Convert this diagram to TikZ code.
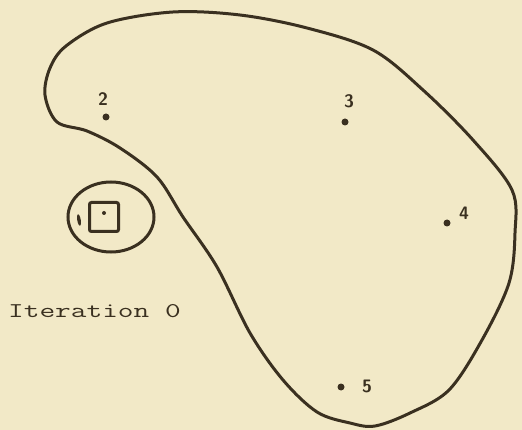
\documentclass[tikz,border=0pt]{standalone}
\usepackage{graphicx}
\usepackage{tikz}
\usetikzlibrary{positioning,shapes.geometric}
\definecolor{paper}{RGB}{242,233,199}
\definecolor{ink}{RGB}{58,48,32}

\begin{document}
\begin{tikzpicture}[
  x=1pt, y=-1pt,
  pt/.style={circle, fill=ink, inner sep=0pt, minimum size=7pt},
  num/.style={text=ink, font=\sffamily\bfseries\fontsize{18}{18}\selectfont, inner sep=0pt},
  curve/.style={draw=ink, line width=3pt, line join=round}
]
\fill[paper] (0,0) rectangle (522,430);
\useasboundingbox (0,0) rectangle (522,430);

% Outer region
\draw[curve] plot[smooth cycle, tension=0.55] coordinates {
  (45,95) (57,122) (87,131) (120,148) (157,177) (183,217) (217,267)
  (250,333) (283,380) (317,412) (350,423) (375,426) (410,413) (449,390)
  (482,340) (509,283) (515,233) (512,190) (473,140) (423,90) (373,50)
  (307,28) (240,15) (173,12) (107,23) (66,46) (50,68)};

% Points
\node[pt] (p2) at (106,117) {};
\node[pt] (p3) at (345,122) {};
\node[pt] (p4) at (447,223) {};
\node[pt] (p5) at (341,387) {};

% Point labels
\node[num] (l2) at (103,99) {2};
\node[num] (l3) at (349,101) {3};
\node[num] (l4) at (464,213) {4};
\node[num] (l5) at (367,386) {5};

% Small region
\node[draw=ink, line width=3pt, ellipse, minimum width=86pt, minimum height=70pt,
      inner sep=0pt] (ring) at (111,217) {};
\node[draw=ink, line width=3pt, rounded corners=2pt, minimum size=29pt,
      inner sep=0pt] (box) at (104,217) {};
\node[circle, fill=ink, inner sep=0pt, minimum size=4pt] (p1) at (104,213) {};
\node[ellipse, fill=ink, inner sep=0pt, minimum width=3.5pt, minimum height=12pt,
      rotate=10] (tick) at (79,220) {};

% Caption
\node[anchor=base west, text=ink, inner sep=0pt] (cap) at (8,318)
  {\scalebox{1.45}[1]{\ttfamily\fontsize{21}{21}\selectfont Iteration 0}};

\end{tikzpicture}
\end{document}
